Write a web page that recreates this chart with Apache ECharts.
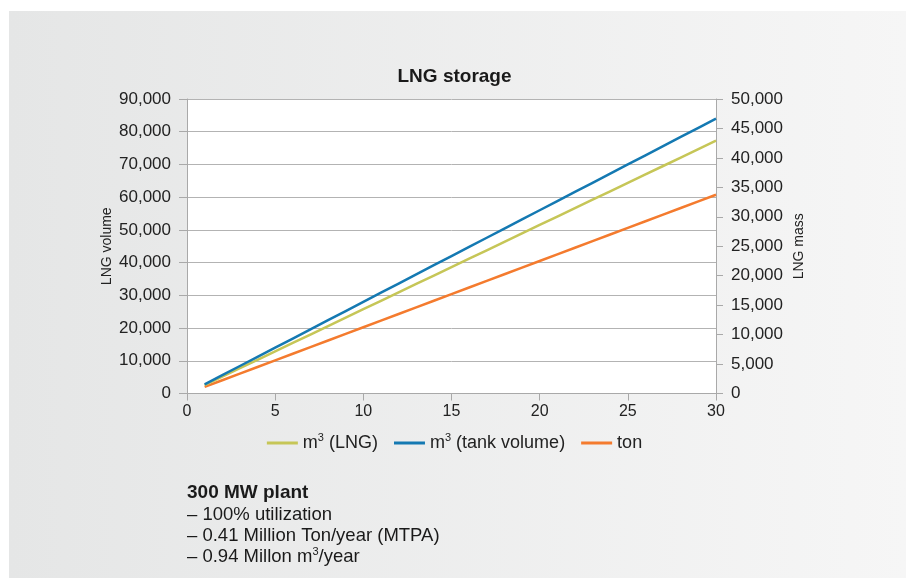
<!DOCTYPE html>
<html>
<head>
<meta charset="utf-8">
<script src="https://cdn.jsdelivr.net/npm/echarts@6/dist/echarts.min.js"></script>
<style>
html,body{margin:0;padding:0;background:#fff;}
#chart{width:909px;height:578px;}
</style>
</head>
<body>
<div id="chart"></div>
<script>
// ---- data ----
var days = [1,2,3,4,5,6,7,8,9,10,11,12,13,14,15,16,17,18,19,20,21,22,23,24,25,26,27,28,29,30];
var lngVolume = [2575,5150,7725,10300,12875,15450,18025,20600,23175,25750,28325,30900,33475,36050,38625,41200,43775,46350,48925,51500,54075,56650,59225,61800,64375,66950,69525,72100,74675,77250];
var tankVolume = [2800,5600,8400,11200,14000,16800,19600,22400,25200,28000,30800,33600,36400,39200,42000,44800,47600,50400,53200,56000,58800,61600,64400,67200,70000,72800,75600,78400,81200,84000];
var lngMass = [1125,2250,3375,4500,5625,6750,7875,9000,10125,11250,12375,13500,14625,15750,16875,18000,19125,20250,21375,22500,23625,24750,25875,27000,28125,29250,30375,31500,32625,33750];
var seriesNames = ['m3 (LNG)', 'm3 (tank volume)', 'ton'];
var titleText = 'LNG storage';
var leftAxisName = 'LNG volume';
var rightAxisName = 'LNG mass';
var noteTitle = '300 MW plant';
var noteLines = ['– 100% utilization', '– 0.41 Million Ton/year (MTPA)', '– 0.94 Millon m{sup|3}/year'];

function pairs(xs, ys){ return xs.map(function(x,i){ return [x, ys[i]]; }); }

var FONT = '"Liberation Sans", Arial, sans-serif';
var chart = echarts.init(document.getElementById('chart'), null, {renderer:'canvas'});

var axisLineStyle = {color:'#a9a9a9', width:1};
var option = {
  animation:false,
  backgroundColor:'#ffffff',
  textStyle:{fontFamily:FONT},
  title:{
    text:titleText, left:'center', top:62,
    textStyle:{fontFamily:FONT, fontWeight:'bold', fontSize:19, color:'#1a1a1a'}
  },
  graphic:[
    {type:'rect', left:9, top:11, z:-10, shape:{width:897, height:567},
     style:{fill:new echarts.graphic.LinearGradient(0,0,1,0,[{offset:0,color:'#e5e6e6'},{offset:1,color:'#f6f6f6'}])}},
    {type:'text', left:187, top:483, style:{text:noteTitle, font:'bold 19px '+FONT, fill:'#1a1a1a'}},
    {type:'text', left:187, top:504, style:{
      text:noteLines.join('\n'), fill:'#1a1a1a', font:'18.5px '+FONT, lineHeight:21,
      rich:{sup:{fontSize:11, verticalAlign:'top', padding:[0,0,11,0], fill:'#1a1a1a', lineHeight:21}}
    }}
  ],
  legend:{
    data:seriesNames, bottom:121, left:'center',
    icon:'rect', itemWidth:31, itemHeight:3, itemGap:16,
    formatter:function(n){ return n.replace('m3', 'm{sup|3}'); },
    textStyle:{fontFamily:FONT, fontSize:18, color:'#222',
      rich:{sup:{fontSize:11, verticalAlign:'top', padding:[0,0,11,0]}}}
  },
  grid:{left:187, right:193, top:99, bottom:184.5, show:true, backgroundColor:'#ffffff', borderWidth:0},
  xAxis:{
    type:'value', min:0, max:30, interval:5,
    axisLine:{show:true, lineStyle:axisLineStyle},
    axisTick:{show:true, length:7, lineStyle:axisLineStyle},
    splitLine:{show:false},
    axisLabel:{fontSize:16, color:'#222', margin:10, fontFamily:FONT}
  },
  yAxis:[
    {type:'value', min:0, max:90000, interval:10000, position:'left',
     name:leftAxisName, nameLocation:'middle', nameRotate:90, nameGap:73, nameMoveOverlap:false,
     nameTextStyle:{fontSize:14, color:'#222', fontFamily:FONT},
     axisLine:{show:true, lineStyle:axisLineStyle},
     axisTick:{show:true, length:8, lineStyle:axisLineStyle},
     splitLine:{show:true, lineStyle:{color:'#b3b3b3', width:1}},
     axisLabel:{fontSize:17, color:'#222', margin:16, fontFamily:FONT,
       formatter:function(v){ return v.toLocaleString('en-US'); }}},
    {type:'value', min:0, max:50000, interval:5000, position:'right',
     name:rightAxisName, nameLocation:'middle', nameRotate:90, nameGap:76, nameMoveOverlap:false,
     nameTextStyle:{fontSize:14, color:'#222', fontFamily:FONT},
     axisLine:{show:true, lineStyle:axisLineStyle},
     axisTick:{show:true, length:7, lineStyle:axisLineStyle},
     splitLine:{show:false},
     axisLabel:{fontSize:17, color:'#222', margin:15, fontFamily:FONT,
       formatter:function(v){ return v.toLocaleString('en-US'); }}}
  ],
  series:[
    {name:seriesNames[0], type:'line', yAxisIndex:0, data:pairs(days, lngVolume), showSymbol:false, symbol:'none',
     lineStyle:{color:'#c6c657', width:2.5}, itemStyle:{color:'#c6c657'}, z:3},
    {name:seriesNames[1], type:'line', yAxisIndex:0, data:pairs(days, tankVolume), showSymbol:false, symbol:'none',
     lineStyle:{color:'#1479b2', width:2.5}, itemStyle:{color:'#1479b2'}, z:4},
    {name:seriesNames[2], type:'line', yAxisIndex:1, data:pairs(days, lngMass), showSymbol:false, symbol:'none',
     lineStyle:{color:'#f47b2e', width:2.5}, itemStyle:{color:'#f47b2e'}, z:2}
  ]
};
chart.setOption(option);
</script>
</body>
</html>
